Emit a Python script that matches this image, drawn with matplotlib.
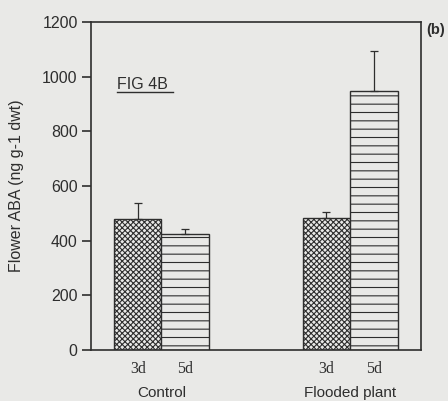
import matplotlib
matplotlib.use("Agg")
import matplotlib.pyplot as plt
from matplotlib.lines import Line2D

# data
groups = ["Control", "Flooded plant"]
days = ["3d", "5d"]
aba_3d = [479, 483]
aba_5d = [424, 948]
err_3d = [59, 22]
err_5d = [18, 146]

INK = "#2e2e2e"
BG = "#e9e9e7"

plt.rcParams["font.family"] = ["Liberation Sans", "DejaVu Sans"]
plt.rcParams["hatch.linewidth"] = 0.8

fig = plt.figure(figsize=(4.48, 4.01), dpi=100, facecolor=BG)
ax = fig.add_axes([0.203, 0.127, 0.737, 0.818], facecolor=BG)

width = 0.252
xs = list(range(len(groups)))
x3 = [x - width / 2 for x in xs]
x5 = [x + width / 2 for x in xs]

ax.bar(x3, aba_3d, width, color=BG, edgecolor=INK, hatch="xxxxxx", linewidth=1.0, zorder=2)
ax.bar(x5, aba_5d, width, color=BG, edgecolor=INK, hatch="--", linewidth=1.0, zorder=2)
ax.errorbar(x3, aba_3d, yerr=[[0] * len(err_3d), err_3d], fmt="none",
            ecolor=INK, elinewidth=0.9, capsize=3, capthick=0.9, zorder=3)
ax.errorbar(x5, aba_5d, yerr=[[0] * len(err_5d), err_5d], fmt="none",
            ecolor=INK, elinewidth=0.9, capsize=3, capthick=0.9, zorder=3)

ax.set_xlim(-0.374, 1.377)
ax.set_ylim(0, 1200)
ax.set_yticks(range(0, 1201, 200))
ax.tick_params(axis="y", direction="out", length=6.5, width=1.2, color=INK,
               labelsize=11.5, labelcolor=INK, pad=3)
ax.set_xticks([])
for s in ax.spines.values():
    s.set_color(INK)
    s.set_linewidth(1.2)

ax.set_ylabel("Flower ABA (ng g-1 dwt)", fontsize=11.5, color=INK, labelpad=13)

# day labels under each bar, group names below
for xa, xb in zip(x3, x5):
    ax.text(xa, -0.058, days[0], transform=ax.get_xaxis_transform(), ha="center", va="center",
            family="Liberation Serif", fontsize=11.5, color=INK)
    ax.text(xb, -0.058, days[1], transform=ax.get_xaxis_transform(), ha="center", va="center",
            family="Liberation Serif", fontsize=11.5, color=INK)
for x, g in zip(xs, groups):
    ax.text(x, -0.13, g, transform=ax.get_xaxis_transform(), ha="center", va="center",
            fontsize=11, color=INK)

ax.text(0.08, 0.81, "FIG 4B", transform=ax.transAxes, ha="left", va="center",
        fontsize=11.5, color=INK)
ax.add_line(Line2D([0.08, 0.249], [0.786, 0.786], transform=ax.transAxes, color=INK, lw=1.0))

fig.text(0.951, 0.925, "(b)", ha="left", va="center", fontsize=10.5, fontweight="bold", color=INK)

fig.savefig("out.png", dpi=100, facecolor=BG)
